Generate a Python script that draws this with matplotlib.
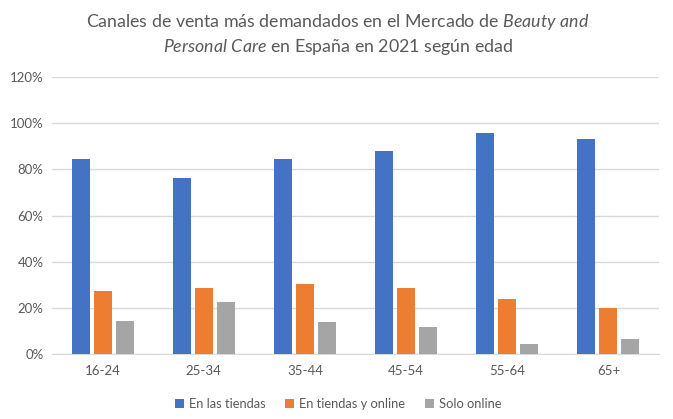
import matplotlib
matplotlib.use("Agg")
import matplotlib.pyplot as plt
import numpy as np

edades = ['16-24', '25-34', '35-44', '45-54', '55-64', '65+']
tiendas = [84.4, 76.1, 84.4, 87.8, 95.7, 93.1]
tiendas_online = [27.5, 28.8, 30.5, 28.4, 24.0, 20.1]
solo_online = [14.5, 22.7, 14.0, 11.9, 4.5, 6.7]
series = ['En las tiendas', 'En tiendas y online', 'Solo online']
colores = ['#4472C4', '#ED7D31', '#A5A5A5']

plt.rcParams['font.family'] = ['Lato', 'DejaVu Sans']
plt.rcParams['mathtext.fontset'] = 'custom'
plt.rcParams['mathtext.rm'] = 'Lato'
plt.rcParams['mathtext.it'] = 'Lato:italic'

fig = plt.figure(figsize=(6.73, 4.19), dpi=100)
ax = fig.add_axes([52 / 673, 1 - 354 / 419, 607 / 673, 277 / 419])

x = np.arange(len(edades))
w = 0.178
paso = 0.218
for i, (vals, nombre, c) in enumerate(zip([tiendas, tiendas_online, solo_online], series, colores)):
    ax.bar(x + (i - 1) * paso, vals, width=w, color=c, label=nombre, zorder=3)

ax.set_xlim(-0.5, len(edades) - 0.5)
ax.set_ylim(0, 120)
ax.set_yticks(np.arange(0, 121, 20))
ax.set_yticklabels([f'{v}%' for v in range(0, 121, 20)])
ax.set_xticks(x)
ax.set_xticklabels(edades)
ax.grid(axis='y', color='#D9D9D9', linewidth=1, zorder=0)
for s in ['top', 'right', 'left']:
    ax.spines[s].set_visible(False)
ax.spines['bottom'].set_color('#D9D9D9')
ax.tick_params(axis='both', length=0, colors='#595959', labelsize=9.5)
ax.tick_params(axis='x', pad=8)
ax.tick_params(axis='y', pad=6)

fig.text(338 / 673, 1 - 22 / 419,
         r'Canales de venta más demandados en el Mercado de $\mathit{Beauty\ and}$',
         ha='center', va='center', fontsize=12.8, color='#595959')
fig.text(338 / 673, 1 - 47 / 419,
         r'$\mathit{Personal\ Care}$ en España en 2021 según edad',
         ha='center', va='center', fontsize=12.8, color='#595959')

fig.legend(loc='center', bbox_to_anchor=(338 / 673, 1 - 404 / 419), ncol=3, frameon=False,
           fontsize=9.3, handlelength=0.7, handleheight=0.7, handletextpad=0.4,
           columnspacing=1.5, labelcolor='#595959')

fig.savefig('out.png', dpi=100)
